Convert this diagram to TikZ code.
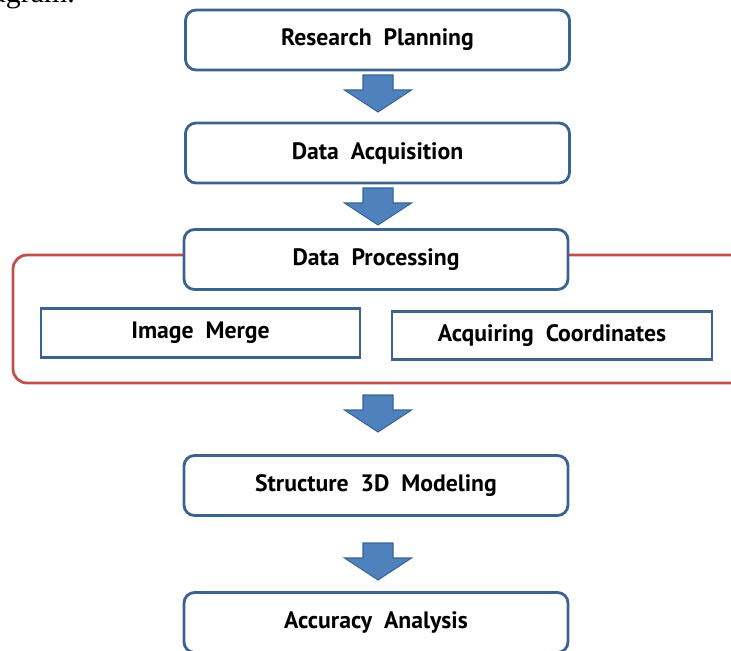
\documentclass[tikz,border=0pt]{standalone}
\usepackage{fontspec}
\newfontfamily\boxfont{PT Sans}
\newfontfamily\pagefont{Liberation Serif}
\usetikzlibrary{positioning, calc}

\definecolor{boxblue}{HTML}{3C6290}
\definecolor{arrowfill}{HTML}{4F81BD}
\definecolor{arrowedge}{HTML}{3A6595}
\definecolor{framered}{HTML}{C0504D}

\begin{document}
\begin{tikzpicture}[font=\boxfont\bfseries\fontsize{13.5}{15}\selectfont]

  % --- CONFIGURAÇÕES GERAIS ---
  \useasboundingbox (0,0) rectangle (14.62,-13);

  % Estilo das caixas de etapa
  \tikzstyle{stage}=[draw=boxblue, line width=1.6pt, rounded corners=6pt, fill=white,
    minimum width=7.68cm, minimum height=1.2cm, inner sep=0pt]
  % Estilo das sub-etapas (cantos retos)
  \tikzstyle{substage}=[draw=boxblue, line width=1.6pt, fill=white,
    minimum width=6.4cm, minimum height=0.97cm, inner sep=0pt]
  % Seta larga entre etapas
  \tikzstyle{downarrow}=[draw=arrowedge, fill=arrowfill, line width=0.6pt, line join=miter]

  % --- TEXTO CORTADO NO TOPO ---
  \node[font=\pagefont\fontsize{17}{20}\selectfont, anchor=base east] (txt) at (1.62,-0.06) {diagram.};

  % --- MOLDURA DO PROCESSAMENTO ---
  \draw[framered, line width=1.6pt, rounded corners=8pt] (15.2,-5.1) -- (0.26,-5.1) -- (0.26,-7.66) -- (15.2,-7.66);

  % --- ETAPAS ---
  \node[stage] (plan) at (7.55,-0.8) {Research\enspace Planning};
  \node[stage] (acq) at (7.55,-3.06) {Data\enspace Acquisition};
  \node[stage] (proc) at (7.52,-5.19) {Data\enspace Processing};
  \node[stage] (model) at (7.52,-9.71) {Structure\enspace 3D\enspace Modeling};
  \node[stage] (acc) at (7.52,-12.45) {Accuracy\enspace Analysis};

  % Sub-etapas do processamento
  \node[substage, minimum width=6.38cm] (merge) at (4.01,-6.66) {Image\enspace Merge};
  \node[substage] (coord) at (11.04,-6.71) {Acquiring\enspace Coordinates};

  % --- SETAS ---
  \coordinate (a1) at (7.56,-1.87);
  \coordinate (a2) at (7.56,-4.13);
  \coordinate (a3) at (7.56,-8.27);
  \coordinate (a4) at (7.56,-11.23);
  \foreach \a in {a1, a2, a3, a4} {
    \draw[downarrow] ($(\a)+(-0.3,0.37)$) -- ($(\a)+(0.3,0.37)$) -- ($(\a)+(0.3,0.07)$)
      -- ($(\a)+(0.67,0.07)$) -- ($(\a)+(0,-0.37)$) -- ($(\a)+(-0.67,0.07)$)
      -- ($(\a)+(-0.3,0.07)$) -- cycle;
  }

\end{tikzpicture}
\end{document}
